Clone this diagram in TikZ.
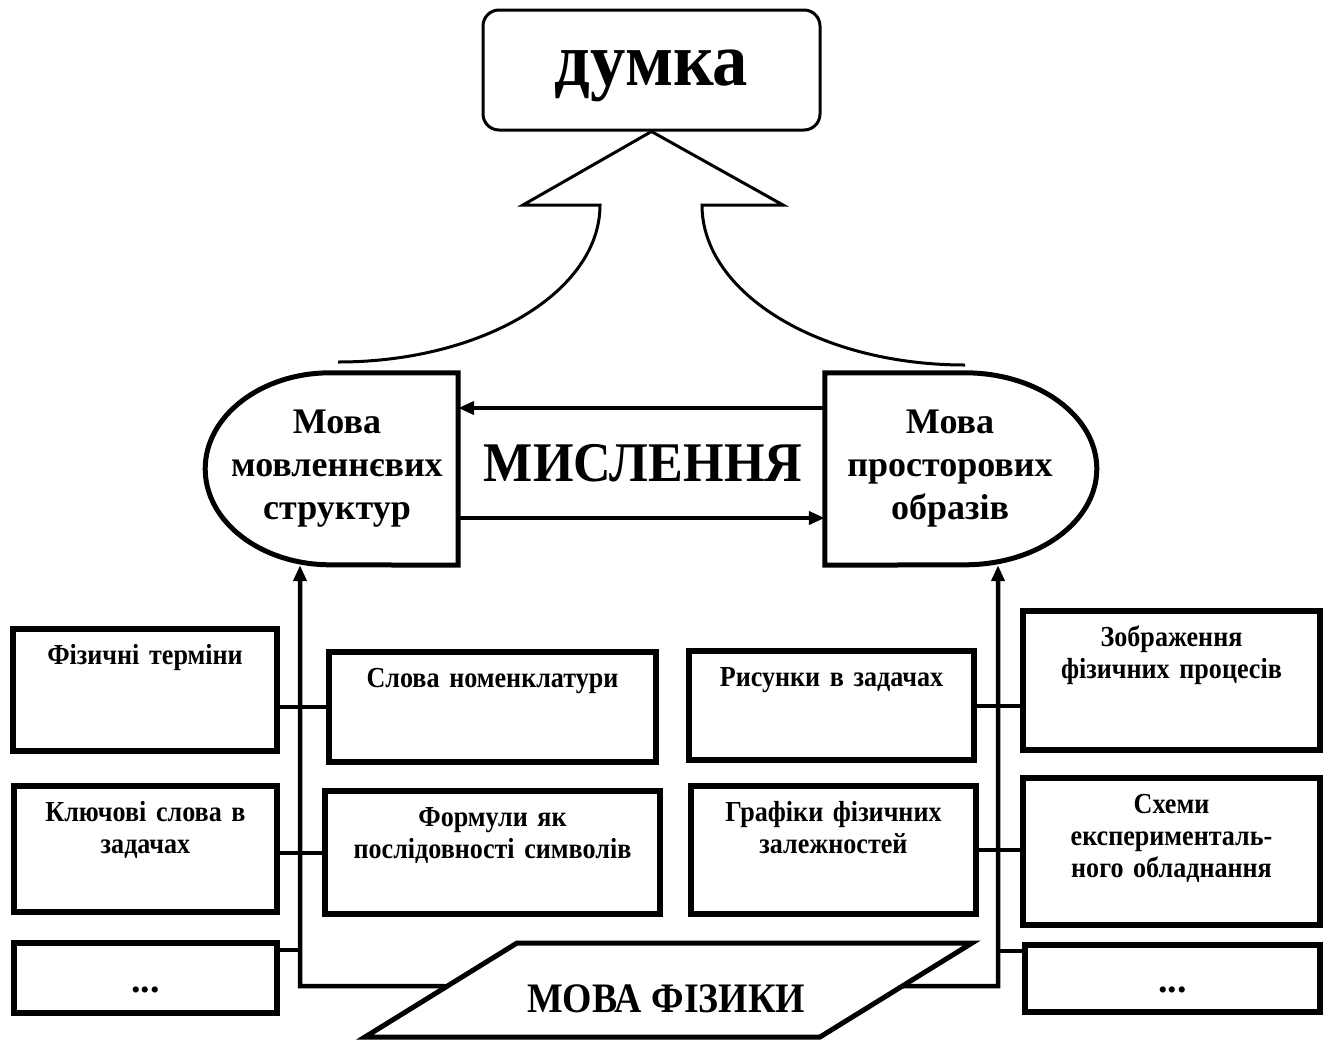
\documentclass[tikz,border=0pt]{standalone}
\usepackage{fontspec}
\setmainfont{Liberation Serif}
\newfontfamily\narrowfont[FakeStretch=0.9]{Liberation Serif}
\newfontfamily\headfont[FakeStretch=0.93]{Liberation Serif}
\usetikzlibrary{arrows.meta,calc}
\tikzset{
  thoughtBox/.style={draw, line width=3pt, rounded corners=16pt, minimum width=337pt, minimum height=120pt, inner sep=0pt, text height=30pt, text depth=0pt, font=\headfont\bfseries\fontsize{76}{80}\selectfont},
  capText/.style={align=center, minimum height=192pt, inner sep=0pt, font=\bfseries\fontsize{36}{43}\selectfont},
  capEdge/.style={line width=5pt, line join=miter},
  bigArrow/.style={line width=3pt, line join=miter},
  termBox/.style={draw, line width=6pt, inner sep=0pt},
  dotsBox/.style={termBox, text height=28pt, text depth=0pt, font=\bfseries\fontsize{38}{40}\selectfont},
  boxLabel/.style={anchor=base, align=center, inner sep=0pt, font=\narrowfont\bfseries\fontsize{29}{32}\selectfont},
  linkLine/.style={line width=4pt},
  flowArrow/.style={line width=4.5pt, -{Triangle[length=16pt,width=13pt]}}
}
\begin{document}
\begin{tikzpicture}[x=1pt,y=-1pt]
  \useasboundingbox (0,0) rectangle (1328,1039);
  \node[thoughtBox] (thought) at (651.5,70) {думка};
  \draw[bigArrow] (338,362) arc[start angle=90, end angle=0, x radius=262, y radius=157]
    -- (523,205) -- (thought.south) -- (783,205) -- (702,205)
    arc[start angle=180, end angle=90, x radius=263, y radius=160];

  \node[capText, minimum width=242pt] (verbal) at (337,469) {Мова\\мовленнєвих\\структур};
  \node[capText, minimum width=250pt] (spatial) at (950,469) {Мова\\просторових\\образів};
  \draw[capEdge] (verbal.north east) -- ++(-128,0)
    arc[start angle=270, end angle=90, x radius=125, y radius=96] -- (verbal.south east) -- cycle;
  \draw[capEdge] (spatial.north west) -- ++(140,0)
    arc[start angle=-90, end angle=90, x radius=132, y radius=96] -- (spatial.south west) -- cycle;
  \node[font=\headfont\bfseries\fontsize{56}{60}\selectfont] (thinking) at (643,463) {МИСЛЕННЯ};
  \draw[flowArrow] ([yshift=61pt]spatial.west) -- ([yshift=61pt]verbal.east);
  \draw[flowArrow] ([yshift=-49pt]verbal.east) -- ([yshift=-49pt]spatial.west);

  \node[termBox, minimum width=264pt, minimum height=122pt] (termBox) at (145,690) {};
  \node[termBox, minimum width=263pt, minimum height=126pt] (keyBox) at (145.5,849) {};
  \node[dotsBox, minimum width=263pt, minimum height=70pt] (dotsL) at (145.5,978) {...};
  \node[termBox, minimum width=327pt, minimum height=110pt] (nomenBox) at (492.5,707) {};
  \node[termBox, minimum width=335pt, minimum height=123pt] (formBox) at (492.5,852.5) {};
  \node[termBox, minimum width=285pt, minimum height=109pt] (pictBox) at (831.5,705.5) {};
  \node[termBox, minimum width=285pt, minimum height=128pt] (graphBox) at (833.5,850) {};
  \node[termBox, minimum width=297pt, minimum height=139pt] (imgBox) at (1171.5,680.5) {};
  \node[termBox, minimum width=297pt, minimum height=147pt] (schemeBox) at (1171.5,851.5) {};
  \node[dotsBox, minimum width=295pt, minimum height=67pt] (dotsR) at (1172.5,978.5) {...};

  \node[boxLabel, text width=250pt] (termText) at ([yshift=-38pt]termBox.north) {Фізичні терміни};
  \node[boxLabel, text width=250pt] (keyText) at ([yshift=-38pt]keyBox.north) {Ключові слова в\\задачах};
  \node[boxLabel, text width=320pt] (nomenText) at ([yshift=-38pt]nomenBox.north) {Слова номенклатури};
  \node[boxLabel, text width=325pt] (formText) at ([yshift=-38pt]formBox.north) {Формули як\\послідовності символів};
  \node[boxLabel, text width=275pt] (pictText) at ([yshift=-38pt]pictBox.north) {Рисунки в задачах};
  \node[boxLabel, text width=275pt] (graphText) at ([yshift=-38pt]graphBox.north) {Графіки фізичних\\залежностей};
  \node[boxLabel, text width=285pt] (imgText) at ([yshift=-38pt]imgBox.north) {Зображення\\фізичних процесів};
  \node[boxLabel, text width=285pt] (schemeText) at ([yshift=-38pt]schemeBox.north) {Схеми\\експерименталь-\\ного обладнання};

  \coordinate (pBL) at (365,1037);
  \coordinate (pTL) at (517,943);
  \coordinate (pTR) at (972,943);
  \coordinate (pBR) at (820,1037);
  \draw[capEdge] (pBL) -- (pTL) -- (pTR) -- (pBR) -- cycle;
  \node[font=\narrowfont\bfseries\fontsize{42}{46}\selectfont] (physLang) at (666,999) {МОВА ФІЗИКИ};
  \coordinate (spineL) at (300,986);
  \coordinate (spineR) at (998,986);

  \draw[flowArrow] ($(pBL)!0.54!(pTL)$) -- (spineL) -- (spineL |- verbal.south);
  \draw[flowArrow] ($(pBR)!0.54!(pTR)$) -- (spineR) -- (spineR |- spatial.south);
  \draw[linkLine] (nomenBox.west) -- (nomenBox.west -| termBox.east);
  \draw[linkLine] (formBox.west) -- (formBox.west -| keyBox.east);
  \draw[linkLine] ([yshift=28pt]dotsL.east) coordinate (dotsLLink) -- (dotsLLink -| spineL);
  \draw[linkLine] (pictBox.east) -- (pictBox.east -| imgBox.west);
  \draw[linkLine] (graphBox.east) -- (graphBox.east -| schemeBox.west);
  \draw[linkLine] ([yshift=28pt]dotsR.west) coordinate (dotsRLink) -- (dotsRLink -| spineR);
\end{tikzpicture}
\end{document}
